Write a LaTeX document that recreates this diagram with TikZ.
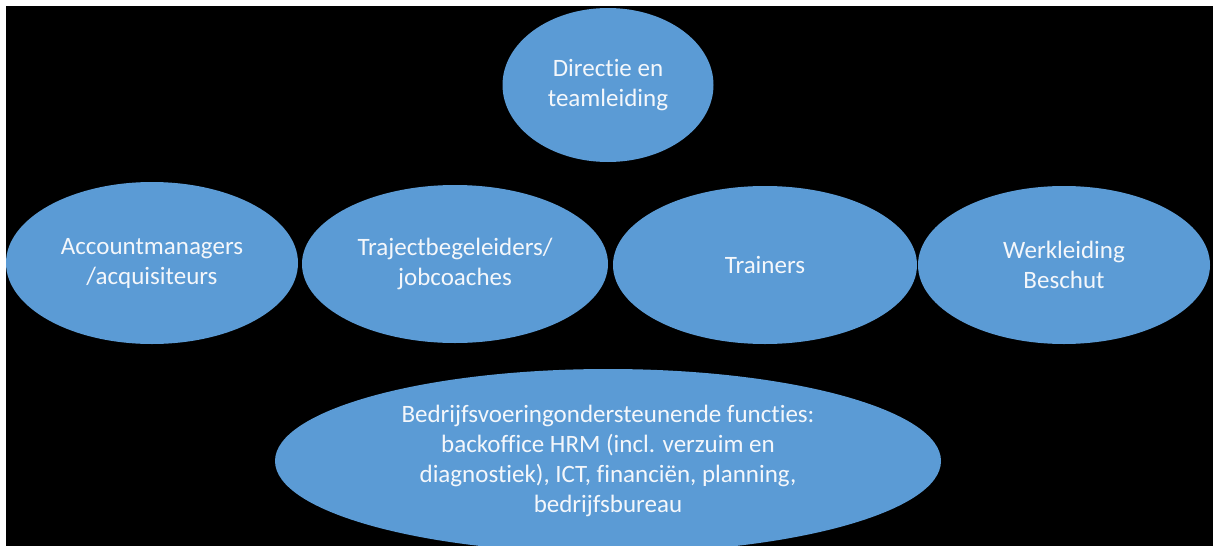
\documentclass[tikz,border=0pt]{standalone}
\usepackage{fontspec}
\setmainfont{Carlito}[Ligatures=NoCommon]
\usetikzlibrary{shapes.geometric}
\definecolor{officeblue}{HTML}{5B9BD5}
\definecolor{softwhite}{HTML}{F4F7FB}

\begin{document}
\begin{tikzpicture}[x=1pt, y=-1pt,
	rol/.style={ellipse, fill=officeblue, inner sep=-6pt, text=softwhite, align=center,
		font=\fontsize{25}{30}\selectfont}]
			%%%%% START %%%%%
			
			\fill[white] (0, 0) rectangle (1213, 546);
			\fill[black] (6, 6) rectangle (1213, 546);
			\useasboundingbox (0, 0) rectangle (1213, 546);
			
			\node[rol, minimum width=211, minimum height=154] (directie) at (608, 85) {Directie en\\teamleiding};
			
			\node[rol, minimum width=292, minimum height=162] (account) at (152, 263) {Accountmanagers\\/acquisiteurs};
			\node[rol, minimum width=306, minimum height=158] (traject) at (455, 264) {Trajectbegeleiders/\\jobcoaches};
			\node[rol, minimum width=304, minimum height=158] (trainers) at (765, 265) {Trainers};
			\node[rol, minimum width=292, minimum height=158] (werk) at (1064, 265) {Werkleiding\\Beschut};
			
			\node[rol, minimum width=666, minimum height=184] (bedrijf) at (608, 461) {Bedrijfsvoeringondersteunende functies:\\backoffice HRM (incl. verzuim en\\diagnostiek), ICT, financiën, planning,\\bedrijfsbureau};
			
			%%%%% END %%%%%
		\end{tikzpicture}
\end{document}
